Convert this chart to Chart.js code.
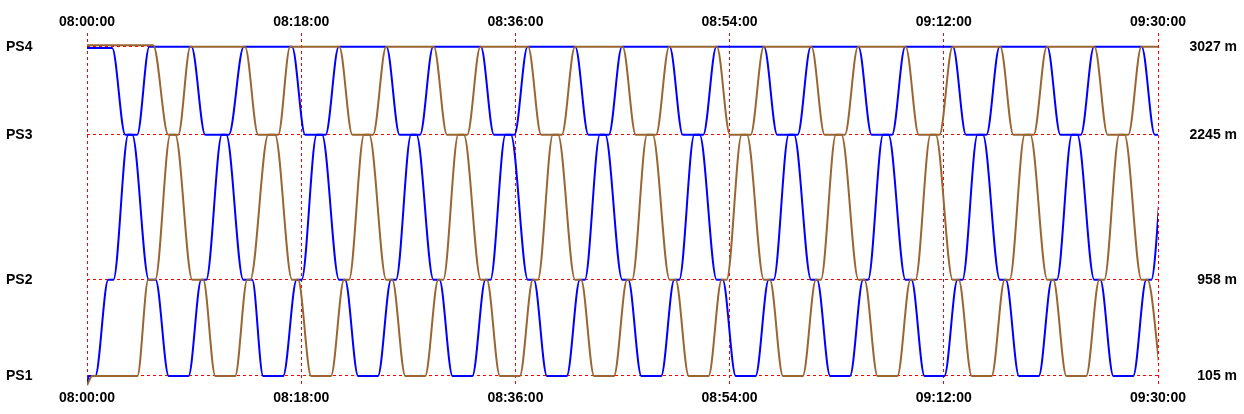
<!DOCTYPE html>
<html>
<head>
<meta charset="utf-8">
<script src="https://cdn.jsdelivr.net/npm/chart.js@4.4.1/dist/chart.umd.min.js"></script>
<style>
  html, body { margin: 0; padding: 0; background: #fff; }
  #wrap { width: 1244px; height: 414px; }
</style>
</head>
<body>
<div id="wrap"><canvas id="graph"></canvas></div>
<script>
// stations along the line
const stationNames = ['PS1', 'PS2', 'PS3', 'PS4'];
const stationDist = [105, 958, 2245, 3027];

// time axis, seconds after 08:00:00, one label every 18 minutes
const timeTicks = [0, 1080, 2160, 3240, 4320, 5400];

// runs: seconds after 08:00:00 / position in metres
const blueA_t = [0, 127, 193, 228, 312, 346, 412, 512, 576, 601, 680, 715, 790,
  1034, 1100, 1185, 1271, 1301, 1367, 1467, 1533, 1558, 1634, 1679, 1745,
  1986, 2052, 2137, 2223, 2253, 2319, 2419, 2485, 2510, 2586, 2631, 2697,
  2938, 3004, 3089, 3175, 3205, 3271, 3371, 3437, 3462, 3538, 3583, 3649,
  3890, 3956, 4041, 4127, 4157, 4223, 4323, 4389, 4414, 4490, 4535, 4601,
  4842, 4908, 4993, 5079, 5109, 5175, 5275, 5341, 5366, 5442, 5487, 5553];
const blueA_m = [3015, 3015, 2245, 2245, 958, 958, 105, 105, 958, 958, 2245, 2245, 3027,
  3027, 2245, 2245, 958, 958, 105, 105, 958, 958, 2245, 2245, 3027,
  3027, 2245, 2245, 958, 958, 105, 105, 958, 958, 2245, 2245, 3027,
  3027, 2245, 2245, 958, 958, 105, 105, 958, 958, 2245, 2245, 3027,
  3027, 2245, 2245, 958, 958, 105, 105, 958, 958, 2245, 2245, 3027,
  3027, 2245, 2245, 958, 958, 105, 105, 958, 958, 2245, 2245, 3027];

const blueB_t = [0, 10, 42, 107, 133, 208, 253, 314, 527, 596, 702, 788, 833, 888, 989, 1057, 1082, 1158, 1203, 1269,
  1510, 1576, 1661, 1747, 1777, 1843, 1943, 2009, 2034, 2110, 2155, 2221,
  2462, 2528, 2613, 2699, 2729, 2795, 2895, 2961, 2986, 3062, 3107, 3173,
  3414, 3480, 3565, 3651, 3681, 3747, 3847, 3913, 3938, 4014, 4059, 4125,
  4366, 4432, 4517, 4603, 4633, 4699, 4799, 4865, 4890, 4966, 5011, 5077,
  5318, 5384, 5469];
const blueB_m = [25, 105, 105, 958, 958, 2245, 2245, 3027, 3027, 2245, 2245, 958, 958, 105, 105, 958, 958, 2245, 2245, 3027,
  3027, 2245, 2245, 958, 958, 105, 105, 958, 958, 2245, 2245, 3027,
  3027, 2245, 2245, 958, 958, 105, 105, 958, 958, 2245, 2245, 3027,
  3027, 2245, 2245, 958, 958, 105, 105, 958, 958, 2245, 2245, 3027,
  3027, 2245, 2245, 958, 958, 105, 105, 958, 958, 2245, 2245, 3027,
  3027, 2245, 2245];

const brownA_t = [0, 334, 410, 445, 531, 586, 647, 747, 808, 823, 914, 964, 1024,
  1272, 1338, 1423, 1509, 1539, 1605, 1705, 1771, 1796, 1872, 1917, 1983,
  2224, 2290, 2375, 2461, 2491, 2557, 2657, 2723, 2748, 2824, 2869, 2935,
  3176, 3242, 3327, 3413, 3443, 3509, 3609, 3675, 3700, 3776, 3821, 3887,
  4128, 4194, 4279, 4365, 4395, 4461, 4561, 4627, 4652, 4728, 4773, 4839,
  5080, 5146, 5231, 5317, 5347, 5413];
const brownA_m = [3041, 3041, 2245, 2245, 958, 958, 105, 105, 958, 958, 2245, 2245, 3027,
  3027, 2245, 2245, 958, 958, 105, 105, 958, 958, 2245, 2245, 3027,
  3027, 2245, 2245, 958, 958, 105, 105, 958, 958, 2245, 2245, 3027,
  3027, 2245, 2245, 958, 958, 105, 105, 958, 958, 2245, 2245, 3027,
  3027, 2245, 2245, 958, 958, 105, 105, 958, 958, 2245, 2245, 3027,
  3027, 2245, 2245, 958, 958, 105];

const brownB_t = [0, 27, 254, 309, 344, 420, 460, 521,
  797, 863, 948, 1034, 1064, 1130, 1230, 1296, 1321, 1397, 1442, 1508,
  1749, 1815, 1900, 1986, 2016, 2082, 2182, 2248, 2273, 2349, 2394, 2460,
  2701, 2767, 2852, 2938, 2968, 3034, 3134, 3200, 3225, 3301, 3346, 3412,
  3653, 3719, 3804, 3890, 3920, 3986, 4086, 4152, 4177, 4253, 4298, 4364,
  4605, 4671, 4756, 4842, 4872, 4938, 5038, 5104, 5129, 5205, 5250, 5316,
  5557];
const brownB_m = [25, 105, 105, 958, 958, 2245, 2245, 3027,
  3027, 2245, 2245, 958, 958, 105, 105, 958, 958, 2245, 2245, 3027,
  3027, 2245, 2245, 958, 958, 105, 105, 958, 958, 2245, 2245, 3027,
  3027, 2245, 2245, 958, 958, 105, 105, 958, 958, 2245, 2245, 3027,
  3027, 2245, 2245, 958, 958, 105, 105, 958, 958, 2245, 2245, 3027,
  3027, 2245, 2245, 958, 958, 105, 105, 958, 958, 2245, 2245, 3027,
  3027];

const BLUE = '#0000ff';
const BROWN = '#996633';

function clock(sec) {
  const total = 8 * 3600 + sec;
  const h = Math.floor(total / 3600);
  const m = Math.floor((total % 3600) / 60);
  const s = total % 60;
  return [h, m, s].map(n => String(n).padStart(2, '0')).join(':');
}

function run(label, t, m, color, order) {
  return {
    label: label,
    data: t.map((v, i) => ({ x: v, y: m[i] })),
    borderColor: color,
    borderWidth: 2,
    pointRadius: 0,
    fill: false,
    cubicInterpolationMode: 'monotone',
    order: order
  };
}

const font = { family: 'Liberation Sans, Arial, sans-serif', size: 14, weight: 'bold' };

const timeAxis = (pos, height, pad, grid) => ({
  type: 'linear',
  position: pos,
  min: 0,
  max: 5400,
  afterBuildTicks: s => { s.ticks = timeTicks.map(v => ({ value: v })); },
  afterFit: s => { s.height = height; },
  ticks: { autoSkip: false, maxRotation: 0, padding: pad, color: '#000', font: font, callback: v => clock(v) },
  grid: { display: grid, color: '#ff0000', lineWidth: 1, drawTicks: false },
  border: { display: false, dash: [3, 3] }
});

const distAxis = (pos, width, grid, fmt) => ({
  type: 'linear',
  position: pos,
  min: 7,
  max: 3149,
  afterBuildTicks: s => { s.ticks = stationDist.map(v => ({ value: v })); },
  afterFit: s => { s.width = width; },
  ticks: { autoSkip: false, padding: 0, crossAlign: 'far', color: '#000', font: font, callback: fmt },
  grid: { display: grid, color: '#ff0000', lineWidth: 1, drawTicks: false },
  border: { display: false, dash: [3, 3] }
});

new Chart(document.getElementById('graph'), {
  type: 'line',
  data: {
    datasets: [
      run('Train 1', blueA_t, blueA_m, BLUE, 1),
      run('Train 2', blueB_t, blueB_m, BLUE, 1),
      run('Train 3', brownA_t, brownA_m, BROWN, 0),
      run('Train 4', brownB_t, brownB_m, BROWN, 0)
    ]
  },
  options: {
    responsive: true,
    maintainAspectRatio: false,
    animation: false,
    layout: { padding: { left: 6, right: 7, top: 0, bottom: 0 } },
    plugins: { legend: { display: false }, tooltip: { enabled: false } },
    scales: {
      x: timeAxis('bottom', 27, 3, true),
      xTop: timeAxis('top', 33, 2, false),
      y: distAxis('left', 81, true, v => stationNames[stationDist.indexOf(v)]),
      yRight: distAxis('right', 79, false, v => v + ' m')
    }
  }
});
</script>
</body>
</html>
